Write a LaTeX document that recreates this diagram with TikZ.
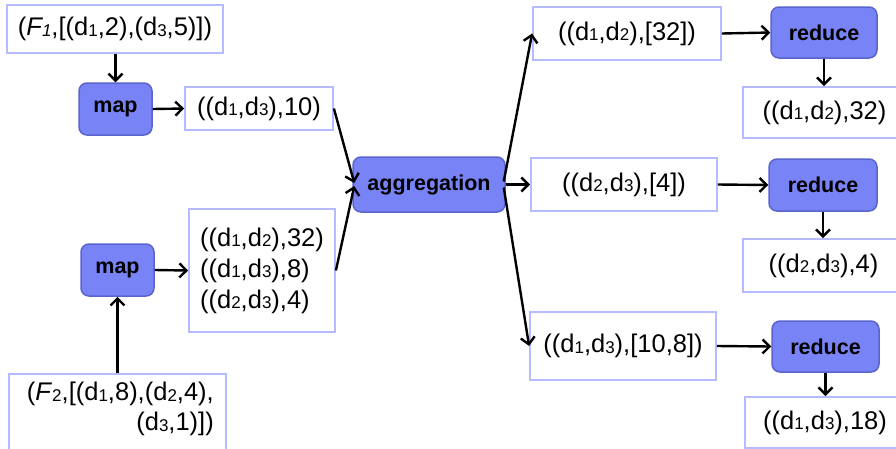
\documentclass[tikz,border=0pt]{standalone}
\usepackage{fontspec}
\setmainfont{Liberation Sans}
\usetikzlibrary{arrows.meta,calc}

\definecolor{boxline}{HTML}{B6BAFF}
\definecolor{opfill}{HTML}{7883F6}
\definecolor{opline}{HTML}{5A64CC}

% small index set nearly on the baseline
\newcommand{\ix}[1]{\raisebox{-0.6pt}{\fontsize{17}{17}\selectfont #1}}

\tikzset{
  databox/.style={draw=boxline, line width=1.8pt, fill=white, inner sep=0pt,
    font=\fontsize{25.5}{31}\selectfont},
  opbox/.style={draw=opline, line width=1.5pt, fill=opfill, rounded corners=8pt,
    inner sep=0pt, font=\fontsize{21.5}{21.5}\selectfont\bfseries},
  flow/.style={line width=2.4pt, -{Straight Barb[length=7pt,width=14pt,line width=2.4pt]}}
}

\begin{document}
\begin{tikzpicture}[x=1pt,y=-1pt]
\useasboundingbox (0,0) rectangle (896,448);

% inputs and map stage
\node[databox, minimum width=216pt, minimum height=48pt] (f1) at (115,29)
  {(\textit{F\ix{1}},[(d\ix{1},2),(d\ix{3},5)])};
\node[opbox, minimum width=73pt, minimum height=52pt] (map1) at (115.5,109) {map};
\node[databox, minimum width=148pt, minimum height=43pt] (o1) at (259,108.5)
  {((d\ix{1},d\ix{3}),10)};

\node[opbox, minimum width=73pt, minimum height=52pt] (map2) at (117.5,270) {map};
\node[databox, minimum width=146pt, minimum height=123pt, align=left] (o2) at (262,270.5)
  {((d\ix{1},d\ix{2}),32)\\((d\ix{1},d\ix{3}),8)\\((d\ix{2},d\ix{3}),4)};
\node[databox, anchor=north, minimum width=217pt, minimum height=90pt] (f2) at (117.5,373)
  {};
\node[font=\fontsize{25.5}{30}\selectfont, align=right, anchor=north east, inner sep=0pt] (f2t) at (214,382)
  {(\textit{F}\ix{2},[(d\ix{1},8),(d\ix{2},4),\\(d\ix{3},1)])};

% aggregation
\node[opbox, minimum width=152pt, minimum height=55pt] (agg) at (429,184.5) {aggregation};

% grouped values
\node[databox, minimum width=188pt, minimum height=53pt] (g1) at (627,33.5)
  {((d\ix{1},d\ix{2}),[32])};
\node[databox, minimum width=186pt, minimum height=53pt] (g2) at (624,184.5)
  {((d\ix{2},d\ix{3}),[4])};
\node[databox, minimum width=186pt, minimum height=68pt] (g3) at (623,346)
  {((d\ix{1},d\ix{3}),[10,8])};

% reduce stage
\node[opbox, minimum width=106pt, minimum height=51pt] (r1) at (824,32.5) {reduce};
\node[opbox, minimum width=108pt, minimum height=52pt] (r2) at (823,185) {reduce};
\node[opbox, minimum width=107pt, minimum height=51pt] (r3) at (825.5,346.5) {reduce};

% results
\node[databox, minimum width=163pt, minimum height=51pt] (e1) at (824.5,112.5)
  {((d\ix{1},d\ix{2}),32)};
\node[databox, minimum width=161pt, minimum height=53pt] (e2) at (823.5,265.5)
  {((d\ix{2},d\ix{3}),4)};
\node[databox, minimum width=160pt, minimum height=51pt] (e3) at (825,422.5)
  {((d\ix{1},d\ix{3}),18)};

% connectors
\draw[flow] (f1.south -| map1.north) -- (map1.north);
\draw[flow] (map1.east) -- (o1.west);
\draw[flow] (f2.north -| map2.south) -- (map2.south);
\draw[flow] (map2.east) -- (o2.west);

\draw[flow] (o1.east) -- ($(agg.west)+(2,-1.5)$);
\draw[flow] (o2.east) -- ($(agg.west)+(2,1.5)$);

\draw[flow] ($(agg.east)+(-2,-3)$) -- (g1.west);
\draw[flow] (agg.east) -- (g2.west);
\draw[flow] ($(agg.east)+(-2,3)$) -- (g3.west);

\draw[flow] (g1.east) -- (r1.west);
\draw[flow] (g2.east) -- (r2.west);
\draw[flow] (g3.east) -- (r3.west);

\draw[flow] (r1.south) -- (e1.north -| r1.south);
\draw[flow] (r2.south) -- (e2.north -| r2.south);
\draw[flow] (r3.south) -- (e3.north -| r3.south);
\end{tikzpicture}
\end{document}
